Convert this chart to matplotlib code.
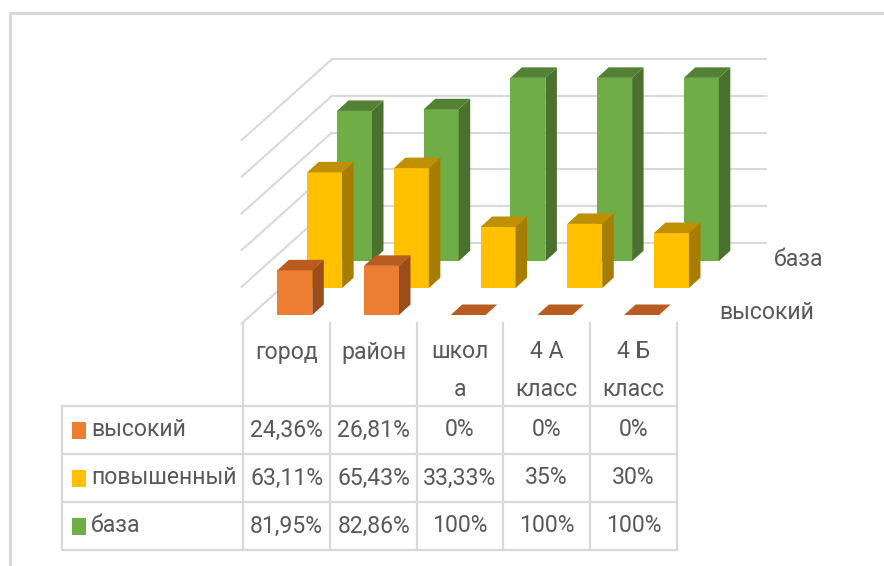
import matplotlib
matplotlib.use('Agg')
import matplotlib.pyplot as plt
from matplotlib.patches import Polygon

plt.rcParams['font.family'] = ['Roboto', 'DejaVu Sans']

categories = ['город', 'район', 'школ\nа', '4 А\nкласс', '4 Б\nкласс']
series_names = ['высокий', 'повышенный', 'база']
vysokiy = [24.36, 26.81, 0, 0, 0]
povysh = [63.11, 65.43, 33.33, 35, 30]
baza = [81.95, 82.86, 100, 100, 100]
vysokiy_txt = ['24,36%', '26,81%', '0%', '0%', '0%']
povysh_txt = ['63,11%', '65,43%', '33,33%', '35%', '30%']
baza_txt = ['81,95%', '82,86%', '100%', '100%', '100%']
grid_ticks = [0, 20, 40, 60, 80, 100]

W, H = 884, 566
PX_X = 86.7    # пикселей на категорию
PX_Y = 1.8335  # пикселей на процент
X0, Y0 = 294.8, 315  # пиксель категории 0 / нуля первого ряда

# псевдо-3D: сдвиг на один ряд и глубина столбика
DX, DY = 29.85 / PX_X, 26.9 / PX_Y
BX, BY = 11.5 / PX_X, 10.5 / PX_Y
BAR_W = 35 / PX_X
FLOOR = -8.4 / PX_Y  # передний край пола ниже основания столбиков

colors = {
    'высокий': ('#ED7D31', '#B85C20', '#9A4E1B'),
    'повышенный': ('#FFC000', '#BF9000', '#A67D00'),
    'база': ('#70AD47', '#548235', '#4A722E'),
}
GRID = '#D9D9D9'
TXT = '#595959'

fig = plt.figure(figsize=(W / 100, H / 100), dpi=100)

# подложка в пикселях: рамка, таблица, подписи
pix = fig.add_axes([0, 0, 1, 1])
pix.set_xlim(0, W)
pix.set_ylim(H, 0)
pix.axis('off')

# область диаграммы: x - категории, y - проценты
ax = fig.add_axes([0, 0, 1, 1])
ax.set_xlim(-X0 / PX_X, (W - X0) / PX_X)
ax.set_ylim((Y0 - H) / PX_Y, Y0 / PX_Y)
ax.axis('off')
ax.patch.set_alpha(0)

# сетка: задняя и боковая стенка
for t in grid_ticks:
    yb = 3 * DY + t + FLOOR
    ax.plot([(331.7 - X0) / PX_X, (766 - X0) / PX_X], [yb, yb], color=GRID, lw=1.5, zorder=1)
    ax.plot([(241.7 - X0) / PX_X, (331.7 - X0) / PX_X], [t + FLOOR, yb], color=GRID, lw=1.5, zorder=1)

# столбики от заднего ряда к переднему
z = 2
for s, vals in reversed(list(enumerate([vysokiy, povysh, baza]))):
    front, top, side = colors[series_names[s]]
    for i, v in enumerate(vals):
        xl = i + s * DX - BAR_W / 2
        xr = xl + BAR_W
        b = s * DY
        if v > 0:
            ax.bar(xl + BAR_W / 2, v, BAR_W, bottom=b, color=front, zorder=z)
            ax.add_patch(Polygon([(xr, b), (xr + BX, b + BY), (xr + BX, b + v + BY), (xr, b + v)],
                                 color=side, lw=0, zorder=z))
        ax.add_patch(Polygon([(xl, b + v), (xr, b + v), (xr + BX, b + v + BY), (xl + BX, b + v + BY)],
                             color=top, lw=0, zorder=z))
    z += 1

# рамка
pix.plot([9.5, 9.5, W], [H, 12.5, 12.5], color=GRID, lw=2.2)

# таблица
col_x = [243.3, 330, 417.3, 502.7, 590, 676.7]
row_y = [406, 454, 502, 550]
for x in col_x:
    pix.plot([x, x], [323, 550], color=GRID, lw=1.6)
for y in row_y:
    pix.plot([62.3, 676.7], [y, y], color=GRID, lw=1.6)
pix.plot([62.3, 62.3], [406, 550], color=GRID, lw=1.6)

FS = 16.6
for i, c in enumerate(categories):
    xc = (col_x[i] + col_x[i + 1]) / 2
    for j, part in enumerate(c.split('\n')):
        pix.text(xc, 352 + j * 38, part, ha='center', va='center', color=TXT, fontsize=FS)

rows = [vysokiy_txt, povysh_txt, baza_txt]
for r, row in enumerate(rows):
    yc = (row_y[r] + row_y[r + 1]) / 2
    pix.add_patch(plt.Rectangle((71.7, yc - 8.5), 14, 17, color=colors[series_names[r]][0], lw=0))
    pix.text(91, yc, series_names[r], ha='left', va='center', color=TXT, fontsize=FS)
    for i, t in enumerate(row):
        xc = (col_x[i] + col_x[i + 1]) / 2
        pix.text(xc, yc, t, ha='center', va='center', color=TXT, fontsize=FS)

# подписи оси рядов
pix.text(799, 259, 'база', ha='center', va='center', color=TXT, fontsize=FS)
pix.text(767, 312.5, 'высокий', ha='center', va='center', color=TXT, fontsize=FS)

fig.savefig('out.png', dpi=100, facecolor='white')
